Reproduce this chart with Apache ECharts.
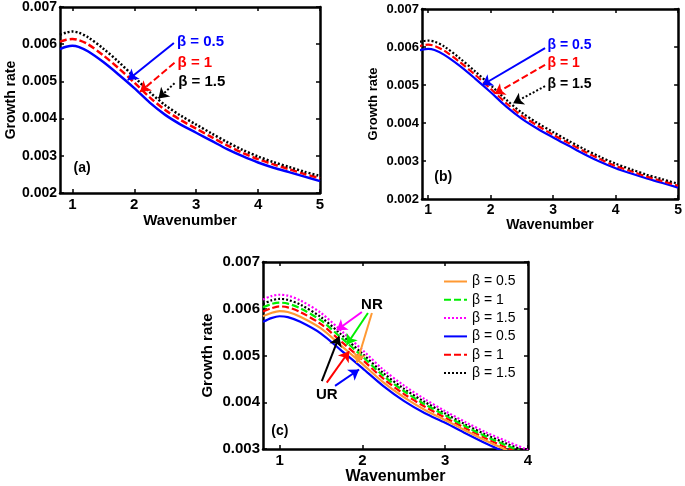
<!DOCTYPE html>
<html><head><meta charset="utf-8">
<script src="https://cdn.jsdelivr.net/npm/echarts@6/dist/echarts.min.js"></script>
<style>html,body{margin:0;padding:0;background:#fff}#c{width:685px;height:486px}</style>
</head><body><div id="c"></div>
<script>
// ---- data ----
const xsAB = [0.8,0.9,1.0,1.1,1.25,1.5,1.75,2.0,2.25,2.5,2.75,3.0,3.25,3.5,3.75,4.0,4.25,4.5,4.75,5.0];
const aBeta05 = [0.00587,0.00593,0.00596,0.00593,0.00581,0.00552,0.00518,0.00482,0.00443,0.00410,0.00384,0.00362,0.00340,0.00318,0.00299,0.00282,0.00268,0.00256,0.00244,0.00232];
const aBeta1  = [0.00607,0.00612,0.00614,0.00611,0.00600,0.00570,0.00535,0.00497,0.00457,0.00423,0.00396,0.00373,0.00350,0.00328,0.00308,0.00291,0.00277,0.00264,0.00251,0.00240];
const aBeta15 = [0.00625,0.00631,0.00634,0.00631,0.00619,0.00588,0.00552,0.00512,0.00471,0.00436,0.00408,0.00384,0.00360,0.00337,0.00316,0.00298,0.00283,0.00270,0.00257,0.00246];
const bBeta05 = [0.00589,0.00593,0.00595,0.00592,0.00580,0.00551,0.00517,0.00481,0.00443,0.00411,0.00385,0.00362,0.00340,0.00318,0.00298,0.00281,0.00267,0.00254,0.00242,0.00230];
const bBeta1  = [0.00600,0.00604,0.00606,0.00603,0.00591,0.00561,0.00527,0.00490,0.00452,0.00419,0.00393,0.00369,0.00347,0.00325,0.00305,0.00287,0.00273,0.00259,0.00247,0.00235];
const bBeta15 = [0.00611,0.00615,0.00617,0.00614,0.00602,0.00571,0.00536,0.00499,0.00461,0.00427,0.00400,0.00376,0.00353,0.00331,0.00311,0.00293,0.00278,0.00264,0.00252,0.00240];
const xsC = [0.8,0.9,1.0,1.1,1.25,1.5,1.75,2.0,2.25,2.5,2.75,3.0,3.25,3.5,3.75,4.0];
const cNR05 = [0.00584,0.00591,0.00595,0.00593,0.00583,0.00558,0.00520,0.00482,0.00443,0.00411,0.00384,0.00362,0.00339,0.00317,0.00297,0.00278];
const cNR1  = [0.00603,0.00610,0.00613,0.00611,0.00601,0.00575,0.00537,0.00498,0.00457,0.00424,0.00396,0.00372,0.00348,0.00326,0.00307,0.00289];
const cNR15 = [0.00620,0.00627,0.00630,0.00628,0.00618,0.00591,0.00552,0.00512,0.00470,0.00436,0.00407,0.00381,0.00357,0.00335,0.00316,0.00298];
const cUR05 = [0.00572,0.00580,0.00584,0.00582,0.00572,0.00547,0.00510,0.00473,0.00435,0.00403,0.00377,0.00356,0.00333,0.00311,0.00291,0.00272];
const cUR1  = [0.00594,0.00601,0.00605,0.00603,0.00593,0.00567,0.00529,0.00491,0.00451,0.00418,0.00391,0.00367,0.00344,0.00322,0.00302,0.00284];
const cUR15 = [0.00610,0.00618,0.00621,0.00619,0.00609,0.00582,0.00544,0.00504,0.00463,0.00429,0.00401,0.00376,0.00352,0.00330,0.00311,0.00293];
const xTicksAB = [1,2,3,4,5];
const xTicksC = [1,2,3,4];
const betaLabels = ['β = 0.5','β = 1','β = 1.5'];
const legendNames = ['NR05','NR1','NR15','UR05','UR1','UR15'];
const legendLabels = {NR05:'β = 0.5',NR1:'β = 1',NR15:'β = 1.5',UR05:'β = 0.5',UR1:'β = 1',UR15:'β = 1.5'};

// ---- styles ----
const FF = 'Liberation Sans, Arial, Helvetica, sans-serif';
const DASH = [7,3], DOT = [2,2];
const pairs = (xa, ya) => xa.map((x,i)=>[x, ya[i]]);

function xAxes(gi, min, max, ticks, fs, nameGap, nameFs){
  const base = {gridIndex:gi, type:'value', min, max,
    axisLine:{onZero:false, lineStyle:{color:'#000', width:2.5}},
    axisTick:{inside:true, length:4, customValues:ticks, lineStyle:{color:'#000', width:1.5}},
    splitLine:{show:false}};
  return [
    Object.assign({}, base, {position:'bottom',
      axisLabel:{customValues:ticks, margin:4, color:'#000', fontSize:fs, fontWeight:'bold', fontFamily:FF},
      name:'Wavenumber', nameLocation:'middle', nameGap,
      nameTextStyle:{color:'#000', fontSize:nameFs, fontWeight:'bold', fontFamily:FF}}),
    Object.assign({}, base, {position:'top', axisLabel:{show:false}})
  ];
}
function yAxes(gi, min, max, fs, nameGap, nameFs){
  const base = {gridIndex:gi, type:'value', min, max, interval:0.001,
    axisLine:{onZero:false, lineStyle:{color:'#000', width:2.5}},
    axisTick:{inside:true, length:4, lineStyle:{color:'#000', width:1.5}},
    splitLine:{show:false}};
  return [
    Object.assign({}, base, {position:'left',
      axisLabel:{margin:3, color:'#000', fontSize:fs, fontWeight:'bold', fontFamily:FF, formatter:v=>v.toFixed(3)},
      name:'Growth rate', nameLocation:'middle', nameGap,
      nameTextStyle:{color:'#000', fontSize:nameFs, fontWeight:'bold', fontFamily:FF}}),
    Object.assign({}, base, {position:'right', axisLabel:{show:false}})
  ];
}
function arrowML(color, type, from, to){
  return {silent:true, animation:false, symbol:['none','arrow'], symbolSize:10,
    lineStyle:{color, type, width:2}, label:{show:false}, emphasis:{disabled:true},
    data:[[{coord:from},{coord:to}]]};
}
function textMP(items){
  return {silent:true, animation:false, symbol:'circle', symbolSize:0,
    data: items.map(t=>({coord:t.at, value:0, label:{show:true, position:t.pos||'right', distance:0,
      formatter:t.text, color:t.color, fontSize:t.fs, fontWeight:'bold', fontFamily:FF}}))};
}
function line(name, gi, xa, ya, color, type, width, extra){
  return Object.assign({type:'line', name, xAxisIndex:gi*2, yAxisIndex:gi*2,
    data:pairs(xa, ya), symbol:'none', smooth:0.3, clip:true, silent:true, animation:false,
    lineStyle:{color, type, width}, itemStyle:{color}}, extra||{});
}

const series = [
  // (a)
  line('a05',0,xsAB,aBeta05,'#0000ff','solid',2.5,{
    markLine:arrowML('#0000ff','solid',[2.64,0.00603],[1.895,0.00504]),
    markPoint:textMP([{at:[2.69,0.00607],text:betaLabels[0],color:'#0000ff',fs:15},
                      {at:[1.02,0.00266],text:'(a)',color:'#000',fs:14}])}),
  line('a1',0,xsAB,aBeta1,'#ff0000',DASH,2.5,{
    markLine:arrowML('#ff0000',DASH,[2.65,0.00550],[2.094,0.00472]),
    markPoint:textMP([{at:[2.70,0.00549],text:betaLabels[1],color:'#ff0000',fs:15}])}),
  line('a15',0,xsAB,aBeta15,'#000000',DOT,2.5,{
    markLine:arrowML('#000000',DOT,[2.65,0.00495],[2.39,0.00454]),
    markPoint:textMP([{at:[2.71,0.00499],text:betaLabels[2],color:'#000',fs:15}])}),
  // (b)
  line('b05',1,xsAB,bBeta05,'#0000ff','solid',2.2,{
    markLine:arrowML('#0000ff','solid',[2.87,0.00597],[1.865,0.00500]),
    markPoint:textMP([{at:[2.91,0.00605],text:betaLabels[0],color:'#0000ff',fs:14},
                      {at:[1.096,0.00257],text:'(b)',color:'#000',fs:14}])}),
  line('b1',1,xsAB,bBeta1,'#ff0000',DASH,2.2,{
    markLine:arrowML('#ff0000',DASH,[2.87,0.00553],[2.063,0.00476]),
    markPoint:textMP([{at:[2.91,0.00557],text:betaLabels[1],color:'#ff0000',fs:14}])}),
  line('b15',1,xsAB,bBeta15,'#000000',DOT,2.2,{
    markLine:arrowML('#000000',DOT,[2.87,0.00497],[2.36,0.00452]),
    markPoint:textMP([{at:[2.91,0.00503],text:betaLabels[2],color:'#000',fs:14}])}),
  // (c)
  line('UR05',2,xsC,cUR05,'#0000ff','solid',2.2,{
    markLine:arrowML('#0000ff','solid',[1.67,0.00435],[1.96,0.00470]),
    markPoint:textMP([{at:[1.57,0.00415],text:'UR',color:'#000',fs:15,pos:'inside'},
                      {at:[0.9,0.00339],text:'(c)',color:'#000',fs:14}])}),
  line('UR1',2,xsC,cUR1,'#ff0000',DASH,2.2,{
    markLine:arrowML('#ff0000','solid',[1.57,0.00442],[1.84,0.00509])}),
  line('UR15',2,xsC,cUR15,'#000000',DOT,2.2,{
    markLine:arrowML('#000000','solid',[1.51,0.00445],[1.72,0.00541])}),
  line('NR05',2,xsC,cNR05,'#ff9933','solid',2.2,{
    markLine:arrowML('#ff9933','solid',[2.115,0.00591],[1.933,0.00484]),
    markPoint:textMP([{at:[2.115,0.00609],text:'NR',color:'#000',fs:15,pos:'inside'}])}),
  line('NR1',2,xsC,cNR1,'#00ee00',DASH,2.2,{
    markLine:arrowML('#00ee00','solid',[2.067,0.00591],[1.81,0.00523])}),
  line('NR15',2,xsC,cNR15,'#ff00ff',DOT,2.2,{
    markLine:arrowML('#ff00ff','solid',[1.994,0.00593],[1.69,0.00554])})
];

const option = {
  backgroundColor:'#fff', animation:false,
  grid:[
    {left:60, top:7, width:260, height:186},
    {left:422, top:9, width:257, height:190},
    {left:263, top:262, width:265, height:188}
  ],
  xAxis:[].concat(
    xAxes(0,0.8,5,xTicksAB,15,19,15),
    xAxes(1,0.9,5,xTicksAB,14,16,14),
    xAxes(2,0.8,4,xTicksC,15,20,16)),
  yAxis:[].concat(
    yAxes(0,0.002,0.007,14,41,14),
    yAxes(1,0.002,0.007,13,42,13),
    yAxes(2,0.003,0.007,15,48,15)),
  legend:{data:legendNames, formatter:n=>legendLabels[n], orient:'vertical', left:443, top:274, padding:0,
    itemWidth:23, itemHeight:12, itemGap:3.3, selectedMode:false, itemStyle:{opacity:0},
    textStyle:{fontSize:14, color:'#000', fontFamily:FF, lineHeight:15}},
  series
};
const chart = echarts.init(document.getElementById('c'), null, {renderer:'canvas'});
chart.setOption(option);
</script></body></html>
